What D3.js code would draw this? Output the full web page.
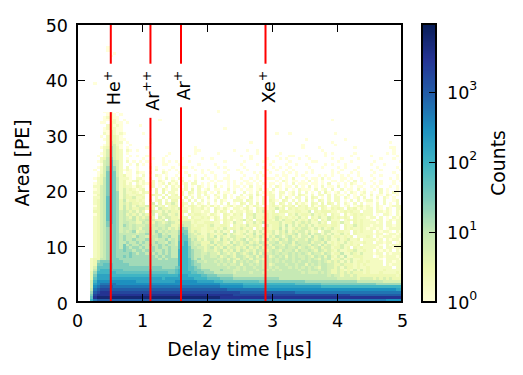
<!DOCTYPE html>
<html>
<meta charset="utf-8">
<head>
<style>
body { margin: 0; background: white; }
text { font-family: "DejaVu Sans"; fill: black; }
.axis path { fill: none; stroke: none; }
.axis line { stroke: black; stroke-width: 1; shape-rendering: crispEdges; }
.axis text { font-size: 17.5px; }
.frame { fill: none; stroke: black; stroke-width: 2; shape-rendering: crispEdges; }
.label { font-size: 18.8px; }
.ion { font-size: 17.5px; }
</style>
<script src="https://d3js.org/d3.v7.min.js"></script>
</head>
<body>
<script type="text/javascript">
// ions marked on the time axis
var ionNames = ["He", "Ar", "Ar", "Xe"];
var ionCharges = ["+", "++", "+", "+"];
var ionTimes = [0.52, 1.13, 1.6, 2.9];

var xTicks = [0, 1, 2, 3, 4, 5];
var yTicks = [0, 10, 20, 30, 40, 50];
var cbTicks = [1, 10, 100, 1000];
var cbExponents = ["0", "1", "2", "3"];

// histogram bins
var xBinWidth = 0.05;
var yBinWidth = 0.5;
var countMax = 9500;

// counts per level, the hex digits below index this list
var levelCounts = [1, 2, 3, 6, 10, 18, 32, 56, 100, 178, 316, 562, 1000, 1778, 3162, 5623];

// one string per area bin, top row first, ten time bins per group
var topRow = 91;
var heatRows = [
".........0",
".........0",
".......... .0",
".......... 0",
"", "", "", "", "", "", "", "", "",
".....0",
"", "", "", "", "", "", "", "",
".........0 00",
"........00 1.0....... .......... .......... ...0",
".........0 10.0",
"........01 100",
"........00 110.0..... .....0.... .......... .......... .......... .......... ........0.",
".......00. 2100.0",
".........1 2010.....0",
"........01 2100...... .......... .......... .....0",
"........00 3100......",
"........10 31010..... 0......... .......... .......... .......... .0...0.... .........0",
".......0.1 3210......",
"........01 32100..... ..0....... .......... .......... .......... .......... 0......... ..0",
".........1 4211.0.... ..0....... .......... .......... ...0...... .......... ........0. .......... ......0...",
"........01 4310..0... .......... .......... .......... .......... .........0 .........0",
".......012 5320.0.... .0........ ......0... .......... .......... .........0 ....0..... .....0.... ......00..",
"........13 5321.10.0. .......... ......00.. ........0. ..0..0.... .......... .....0.... .......... .......0..",
".......013 5321.0.... ........0. ......0... ...0...... .....0.... ..0....... ......0.0. .....0.... .....0.0..",
"......0.13 5321..0.0. .0.....0.. ....0..... .......... 0..0...... .0...00... 0.....0... ....0..... 0.......0.",
".......124 6321.0.... 0..0..0... ..0.....0. .0........ ...0....0. ..0.0...0. .0......0. .0....0... ...0...0..",
"......0134 7431.1.0.0 .0....0.0. 0...0..... .....0.... .0.....0.. 0....0.... ..00...... 0...0..... .0.......0",
".......034 7431..0.1. 0.0...00.. .0.....0.. ..0....... 0....0...0 ....0..0.. 0.....0.0. ..0....... 0...0.....",
"......0135 7531.1..0. ..1.0....0 ..00.0.... ...0.0.... .0.....0.. 0.0..0.... .0...0.... 0.0...0... ..0.....0.",
".....0.135 7531010.0. ..0.1.0.0. 0.....0.0. 0.....0..0 ..0.....0. .0..0.0... ..0.....0. .0...0.... 0..0.....0",
"......0136 7631.00.10 0.1...10.. .0.0....0. .0...0.... 0...0.0..0 ...0.0.0.. 0.0.....0. 0...0.0... .0.....0..",
"......0236 7631200.0. 1.0.10.0.. 0...1.0..0 ..0...0... .0...0.0.. .0.00..0.0 ....0.0.0. .0.0..0... 0..0....0.",
".....01246 7641110.11 0.1..0.1.0 .10...0.1. 0.0..00... 0..0.0..00 0.0.0.1... 0.00.1.0.. .00.0..0.. .0....0.0.",
"......1246 7641200120 1.01.10..1 0.1.0.1... .0.00.0.0. .00.0.0... .0.10.00.0 .1.0.0..00 .0.0.1.0.. 0..0...0.0",
".....01246 7641201.10 1011.01.20 1.01.11.0. 0.0...0.0. 0.00.0.0.0 0.0.0.1.00 0.00.0.1.. 0.0.10..0. .0.0...0..",
".....11346 7641211021 0.21.0.1.1 01.1.0.10. 0.1.0.0.00 .0.1.00..0 .10.00.1.0 .1.0.1.00. 1.0.0.00.. 0.0...0.0.",
".....01346 7641312101 2.1.2.20.1 1.01.2.1.0 1.00..1.0. 0.00.01.0. 1.0.1.0.10 00.1.01.1. .1.00.1.0. .0.1.0..0.",
".....11346 7651311210 210.2.2.11 0.1.21.101 .0.1.00.1. .1.0.1.001 0.11.01.1. 1.0.1.20.0 1.0.10.01. 0..1.0.10.",
".....02346 7651321122 1.2211.2.1 2.1.10.1.1 0.10.1.0.. 1.01.20.01 1.10.01.21 0.1.11.1.1 00.1.0.10. 1.00.10.0.",
".....11347 7651322311 2.2.1.2.21 11.2.1.10. 1.01.1.0.1 00.2.0.1.1 1.1.20.11. 1.21.0.1.1 1.10.01.1. 0.1.10.0..",
".....12347 7652412212 1.3.12.1.2 2.1.2.1.1. 0.1.10..11 1.21.0.1.2 10.21.1.1. 2.1.21.1.1 1.0.1.1.01 1.0.1..01.",
".....12347 7652323221 2.13.2.213 1.21.1.10. 1.0.1.2.0. 21.1.2.1.1 2.21.1.201 0.21.2.21. 1.10.1.1.0 0.1.1.0.1.",
".....02347 7652423132 2312312.12 2.20121021 0201.01201 1.20210.01 2102112.21 2.20121.11 1.01.01201 0.10..0111",
".....12347 7652423223 3122.32212 1311021120 1.21020.11 0120.21201 1312.21211 2112.21021 21.2120101 1.10.10.11",
".....22347 7653432313 2.33213132 2122.21101 1.2021.201 1021.21311 2.22211221 13.2122211 0121211.11 1.11010.10",
".....02347 7653423231 3213.23312 311.212211 0210.21021 2.22311121 2211.21312 2131212.21 1.20121211 1.0.110.10",
".....12347 7653432423 2332.31332 2122.21121 2021.20211 1.21311221 2321212131 2.21311321 2121.21110 11.1.0.101",
".....12347 7653433423 3423223.32 2322212211 1.21021201 2312.22122 1313221312 1312.21311 1.12121211 0.11.01011",
".....12346 7653443322 4322432343 2233312112 2211.21031 1.21312412 2231223123 2311312.22 1311.21211 1101.11.11",
".....12346 6653543433 3423433442 2343321221 2311221.21 2131221.31 2231413132 3131222122 1.21131211 0111.11011",
".....12345 6653443432 4433343423 2465322211 2212131221 3212.21321 2241312323 3213131231 1.21211210 1101.01111",
".....12345 6653434523 3443534343 3566323211 2131312.31 2131313122 3132413233 1312.13311 2211.21211 1.10110.10",
".....12345 6654444434 4543453433 3576432311 3212241321 2312412312 3132323413 2413313131 1312.21111 1011.01101",
".....12345 6654544354 4334454453 3677433221 3241321332 2132324213 2431342313 3142332312 21212.1112 1.10111011",
".....12345 6654544544 4544344534 3677534231 3321423132 3413213142 3243243233 2432342311 3123112.11 1101.10110",
".....12345 6654454454 5444544354 3778543322 2423321423 2342324323 3423342433 3423324121 2131211121 1.11011.01",
".....12345 6654645445 4454454544 3778543422 3242323243 2323432342 4332432343 3243142321 2311212.11 1110.10111",
".....12345 6654654554 5445454454 4788644332 3423242332 3242324233 2433433423 4323423312 2312.21211 1101.11011",
".....12345 6655655455 4545445454 4888654432 3323423242 4323243323 4324334243 3432432321 3112231121 1.10101.10",
".....12345 6655556545 5454545454 4888654433 4332432324 3234242433 4343343434 3243324312 2411321311 1011.10111",
".....12345 6655656555 5555454554 4888654434 4334234324 4323424342 3434243433 4324342421 3141122211 1.01011101",
"....122445 6665555555 5555545455 5888754534 4443342432 4342433243 4344343443 4343243412 2312311211 1110.11110",
"....125666 6666555555 5555555555 5888765443 4434343424 3434324343 4343443434 4344343232 3131312212 1111.11011",
"....126677 7666665555 5555555555 5888765544 4443434334 2443434342 3444344344 2434344332 2322212121 1111.10111",
"....137777 7666666666 6656665555 6788776544 4444443443 4344344343 4344434343 4343244332 3132212112 1111111.11",
"....147888 7777666666 6666666666 7888776655 5444544433 4344434434 3434444434 4344344322 3212131312 1111211111",
"....258888 8877777777 7777777766 7888877665 5544444434 4443444344 4444444443 4333434322 3232322212 1112111121",
"....269999 8888888888 8888888888 8999888877 6665555544 4444444444 4444444444 4444444343 3233232222 2222222212",
"....279999 9999999999 9999998999 9999998888 7777666655 5555555555 5544444444 4444444444 3333332333 3232323222",
"....38aaaa aaaaaaaa99 9999999999 aaaaaaa999 9988877777 7777776666 6666666666 5555555555 5555554444 4444333333",
"....39abbb bbaaaaaaaa aaaaaaaaaa aaaaaaaaaa aaaa999999 9888888888 8888888777 7777766666 6666666666 6655555555",
"....3abccc cbbbbbbbbb bbbbbbbbbb bbbbbbbbbb bbbbaaaaaa a999999999 9999999999 9999988888 8888888888 8888888888",
"....4bcddd cccccccccc cccccccccc cccccccccc ccccccbbbb bbbbbbbbaa aaaaaaaaaa aaaaaaaaaa aaaaaaaaaa aaaaaaaa99",
"....5cdeee dddddddddd dddddddddd dddddddddd dddddddddd cccccccccc cccccccbbb bbbbbbbbbb bbbbbbbbbb bbbbbbbbbb",
"....6deeee eeeeeeeeee eeeeeeeeee eeeeeeeeee eeeeeeeedd dddddddddd dddddddddd dddddddddd ddddcccccc cccccccccc",
"....7effff ffffffffff ffffffffff ffffffffff ffffeeeeee eeeeeeeeee eeeeeeeeee eeeeeeeeee eeeeeeeeee eeeeeeeeee",
"....8bcccc cccccccccc cccccccccc cccccccccc cccccccccc bbbbbbbbbb bbbbbbbbbb bbbbbbbbbb bbbbbbbbbb bbbbbaaaaa"
];

var margin = {top: 24, right: 121, bottom: 73, left: 77},
    width = 523 - margin.left - margin.right,
    height = 375 - margin.top - margin.bottom;

var x = d3.scaleLinear().domain([0, 5]).range([0, width]);
var y = d3.scaleLinear().domain([0, 50]).range([height, 0]);

// same nine stops as the matplotlib YlGnBu map
var ramp = d3.scaleLinear()
    .domain(d3.range(9).map(function(i) { return i / 8; }))
    .range(d3.schemeYlGnBu[9]);
var logCount = d3.scaleLog().domain([1, countMax]).range([0, 1]);

var cells = [];
heatRows.forEach(function(str, i) {
    str.replace(/ /g, "").split("").forEach(function(ch, col) {
        if (ch != ".") {
            cells.push({col: col, row: topRow - i, count: levelCounts[parseInt(ch, 16)]});
        }
    });
});

var svg = d3.select("body").append("svg")
    .attr("width", 523)
    .attr("height", 375);

var plot = svg.append("g")
    .attr("transform", "translate(" + margin.left + "," + margin.top + ")");

plot.selectAll("rect.cell")
    .data(cells)
  .enter().append("rect")
    .attr("class", "cell")
    .attr("shape-rendering", "crispEdges")
    .attr("x", function(d) { return x(d.col * xBinWidth); })
    .attr("y", function(d) { return y((d.row + 1) * yBinWidth); })
    .attr("width", x(xBinWidth) - x(0))
    .attr("height", y(0) - y(yBinWidth))
    .attr("fill", function(d) { return ramp(logCount(d.count)); });

// red lines, each label sits on a white box that cuts its line
plot.selectAll("line.ion")
    .data(ionTimes)
  .enter().append("line")
    .attr("class", "ion")
    .attr("x1", function(d) { return x(d); })
    .attr("x2", function(d) { return x(d); })
    .attr("y1", 0)
    .attr("y2", height)
    .attr("stroke", "red")
    .attr("stroke-width", 2);

ionTimes.forEach(function(t, i) {
    var g = plot.append("g")
        .attr("transform", "translate(" + (x(t) + 9) + "," + y(41.6) + ") rotate(-90)");
    var box = g.append("rect").attr("fill", "white");
    var label = g.append("text")
        .attr("class", "ion")
        .attr("text-anchor", "end");
    label.append("tspan").text(ionNames[i]);
    label.append("tspan")
        .attr("dy", -8)
        .style("font-size", "12.5px")
        .text(ionCharges[i]);
    var b = label.node().getBBox();
    box.attr("x", b.x - 7)
        .attr("y", b.y)
        .attr("width", b.width + 14)
        .attr("height", b.height);
});

plot.append("g")
    .attr("class", "axis")
    .attr("transform", "translate(0," + height + ")")
    .call(d3.axisBottom(x).tickValues(xTicks).tickFormat(d3.format("d")).tickSizeInner(-8).tickSizeOuter(0).tickPadding(13));

plot.append("g")
    .attr("class", "axis")
    .call(d3.axisTop(x).tickValues(xTicks).tickFormat("").tickSizeInner(-8).tickSizeOuter(0));

plot.append("g")
    .attr("class", "axis")
    .call(d3.axisLeft(y).tickValues(yTicks).tickFormat(d3.format("d")).tickSizeInner(-8).tickSizeOuter(0).tickPadding(9))
    .selectAll("text").attr("dy", "0.4em");

plot.append("g")
    .attr("class", "axis")
    .attr("transform", "translate(" + width + ",0)")
    .call(d3.axisRight(y).tickValues(yTicks).tickFormat("").tickSizeInner(-8).tickSizeOuter(0));

plot.append("rect")
    .attr("class", "frame")
    .attr("width", width)
    .attr("height", height);

plot.append("text")
    .attr("class", "label")
    .attr("text-anchor", "middle")
    .attr("x", width / 2)
    .attr("y", height + 54)
    .text("Delay time [µs]");

plot.append("text")
    .attr("class", "label")
    .attr("text-anchor", "middle")
    .attr("transform", "rotate(-90)")
    .attr("x", -height / 2)
    .attr("y", -48)
    .text("Area [PE]");

// colorbar
var cbWidth = 14,
    cbLeft = 422;
var cb = svg.append("g")
    .attr("transform", "translate(" + cbLeft + "," + margin.top + ")");
var cy = d3.scaleLog().domain([1, countMax]).range([height, 0]);

cb.selectAll("rect.step")
    .data(d3.range(256))
  .enter().append("rect")
    .attr("class", "step")
    .attr("shape-rendering", "crispEdges")
    .attr("x", 0)
    .attr("y", function(d) { return height * (255 - d) / 256; })
    .attr("width", cbWidth)
    .attr("height", height / 256 + 1)
    .attr("fill", function(d) { return ramp((d + 0.5) / 256); });

var cbAxis = cb.append("g")
    .attr("class", "axis")
    .attr("transform", "translate(" + cbWidth + ",0)")
    .call(d3.axisRight(cy).tickValues(cbTicks).tickSizeInner(-7).tickSizeOuter(0).tickPadding(11).tickFormat(""));

cbAxis.selectAll("g.tick text").each(function(d, i) {
    var t = d3.select(this);
    t.attr("dy", "0.36em");
    t.append("tspan").text("10");
    t.append("tspan")
        .attr("dy", -9)
        .style("font-size", "12.5px")
        .text(cbExponents[i]);
});

cb.append("rect")
    .attr("class", "frame")
    .attr("width", cbWidth)
    .attr("height", height);

cb.append("text")
    .attr("class", "label")
    .attr("text-anchor", "middle")
    .attr("transform", "rotate(-90)")
    .attr("x", -height / 2)
    .attr("y", 83)
    .text("Counts");
</script>
</body>
</html>
